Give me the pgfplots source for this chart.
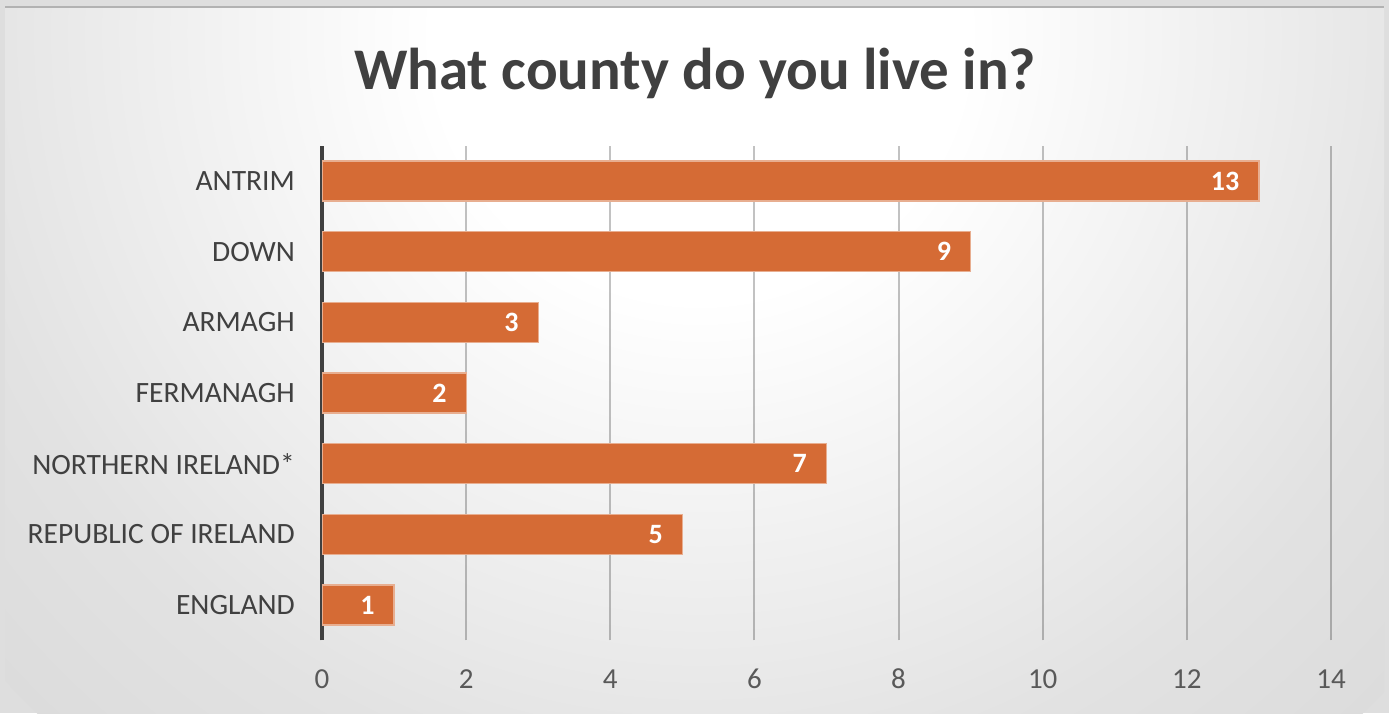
\documentclass[border=0pt]{standalone}
\usepackage{pgfplots}
\pgfplotsset{compat=1.18}
\usepackage{fontspec}
\setmainfont{Carlito}
\definecolor{barc}{RGB}{213,107,53}
\definecolor{txt}{RGB}{64,64,64}
\definecolor{tickc}{RGB}{89,89,89}
\definecolor{bgmid}{RGB}{226,226,226}
\definecolor{bgout}{RGB}{190,190,190}
\definecolor{outerc}{RGB}{222,222,222}
\pgfdeclareradialshading{bgshade}{\pgfpoint{0bp}{0bp}}{color(0bp)=(white); color(7bp)=(white); color(20bp)=(bgmid); color(50bp)=(bgout)}
\begin{document}
\begin{tikzpicture}[x=1pt,y=1pt]
\useasboundingbox (0,0) rectangle (1389,713);
\fill[outerc] (0,0) rectangle (1389,713);
\begin{scope}
\clip (5,0) rectangle (1384,706);
\shade[shading=bgshade] (700,680) circle (950);
\end{scope}
\draw[black!30, line width=1.5pt] (5,706) -- (1384,706);
\node[anchor=base, font=\bfseries\fontsize{59}{59}\selectfont, text=txt] at (695,623) {What county do you live in?};
\begin{axis}[
  at={(322pt,72.7pt)}, anchor=south west, scale only axis,
  width=1009pt, height=494.6pt,
  xmin=0, xmax=14, ymin=-0.5, ymax=6.5,
  xbar, bar width=40pt,
  /pgf/number format/assume math mode=true,
  xtick={0,2,...,14},
  ytick={0,...,6},
  yticklabels={ENGLAND, REPUBLIC OF IRELAND, NORTHERN IRELAND*, FERMANAGH, ARMAGH, DOWN, ANTRIM},
  xmajorgrids,
  grid style={black, opacity=0.24, line width=2pt},
  axis line style={draw=none},
  major tick length=0pt,
  extra x ticks={0},
  extra x tick labels={},
  extra x tick style={grid=major, grid style={txt, opacity=1, line width=3.3pt}},
  xticklabel style={font=\fontsize{29}{29}\selectfont, anchor=base, yshift=-47.7pt, text=tickc},
  yticklabel style={font=\fontsize{29.5}{29.5}\selectfont, anchor=east, inner sep=0pt, xshift=-27pt, text=txt},
  nodes near coords,
  nodes near coords style={anchor=east, inner sep=0pt, xshift=-19pt, text=white, font=\bfseries\fontsize{28}{28}\selectfont},
]
\addplot[fill=barc, draw=barc!55!white, line width=1.2pt] coordinates {(1,0) (5,1) (7,2) (2,3) (3,4) (9,5) (13,6)};
\end{axis}
\end{tikzpicture}
\end{document}
